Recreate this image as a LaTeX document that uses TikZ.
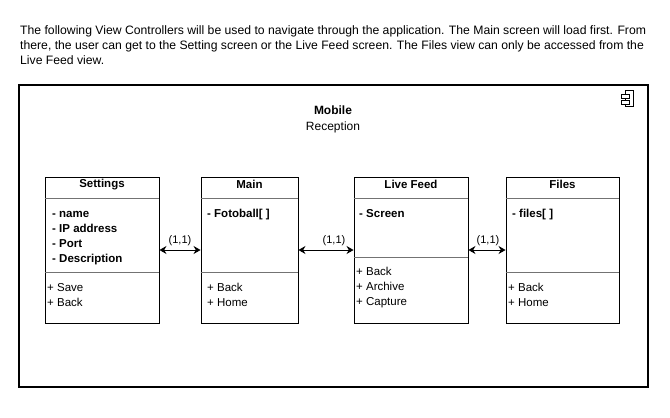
\documentclass[tikz,border=0pt]{standalone}
\usepackage{fontspec}
\setmainfont{Liberation Sans}
\usetikzlibrary{arrows.meta}
\begin{document}
\begin{tikzpicture}[x=1pt,y=-1pt,
  cls/.style={draw, line width=0.9pt, inner sep=0pt, minimum height=146pt},
  sep/.style={line width=0.6pt, draw=black!55},
  ttl/.style={font=\fontsize{11.5}{13}\selectfont\bfseries, inner sep=0pt},
  attr/.style={font=\fontsize{11.5}{15}\selectfont\bfseries, anchor=north west, align=left, inner sep=0pt},
  meth/.style={font=\fontsize{11.5}{15}\selectfont, anchor=north west, align=left, inner sep=0pt},
  lbl/.style={font=\fontsize{11}{12}\selectfont, inner sep=0pt},
  link/.style={line width=0.9pt, {Stealth[length=7pt,width=8pt]}-{Stealth[length=7pt,width=8pt]}},
]
\useasboundingbox (0,0) rectangle (670,418);
\fill[white] (0,0) rectangle (670,418);

% introduction
\node[font=\fontsize{12.2}{15}\selectfont, anchor=north west, align=left, inner sep=0pt] (intro) at (20,23.5)
 {\strut The following View Controllers will be used to navigate through the application. The Main screen will load first. From\\
  there, the user can get to the Setting screen or the Live Feed screen. The Files view can only be accessed from the\\
  Live Feed view.};

% frame
\node[draw, line width=1.5pt, inner sep=0pt, minimum width=629pt, minimum height=302pt] (frame) at (333.5,236) {};
\node[font=\fontsize{12}{13}\selectfont\bfseries, inner sep=0pt] (ftitle) at (333,110) {Mobile};
\node[font=\fontsize{12}{13}\selectfont, inner sep=0pt] (fsub) at (333,127) {Reception};

% component icon
\draw[line width=0.8pt, fill=white] (625,90) rectangle (633,106);
\draw[line width=0.8pt, fill=white] (621,94) rectangle (629,98);
\draw[line width=0.8pt, fill=white] (621,100) rectangle (629,104);

% classes
\node[cls, minimum width=114pt] (settings) at (102,250) {};
\node[cls, minimum width=97pt] (main) at (249.5,250) {};
\node[cls, minimum width=114pt] (live) at (411,250) {};
\node[cls, minimum width=113pt] (files) at (562.5,250) {};

\foreach \n/\t in {settings/Settings, main/Main, live/Live Feed, files/Files}{
  \node[ttl] (\n-title) at ([yshift=-7.5pt]\n.north) {\t};
  \draw[sep] ([yshift=-22pt]\n.north west) -- ([yshift=-22pt]\n.north east);
}
\draw[sep] ([yshift=-96pt]settings.north west) -- ([yshift=-96pt]settings.north east);
\draw[sep] ([yshift=-96pt]main.north west) -- ([yshift=-96pt]main.north east);
\draw[sep] ([yshift=-81pt]live.north west) -- ([yshift=-81pt]live.north east);
\draw[sep] ([yshift=-96pt]files.north west) -- ([yshift=-96pt]files.north east);

\node[attr] (settings-attr) at (52,206.5) {\strut- name\\- IP address\\- Port\\- Description};
\node[meth] (settings-meth) at (47,280.5) {\strut+ Save\\+ Back};
\node[attr] (main-attr) at (207,206.5) {\strut- Fotoball[ ]};
\node[meth] (main-meth) at (207,280.5) {\strut+ Back\\+ Home};
\node[attr] (live-attr) at (359,206.5) {\strut- Screen};
\node[meth] (live-meth) at (356,264.5) {\strut+ Back\\+ Archive\\+ Capture};
\node[attr] (files-attr) at (512,206.5) {\strut- files[ ]};
\node[meth] (files-meth) at (508,280.5) {\strut+ Back\\+ Home};

% links
\draw[link] (settings.east) -- (main.west);
\draw[link] (main.east) -- (live.west);
\draw[link] (live.east) -- (files.west);
\node[lbl] (l1) at (180,241) {(1,1)};
\node[lbl] (l2) at (334,241) {(1,1)};
\node[lbl] (l3) at (488,241) {(1,1)};
\end{tikzpicture}
\end{document}
